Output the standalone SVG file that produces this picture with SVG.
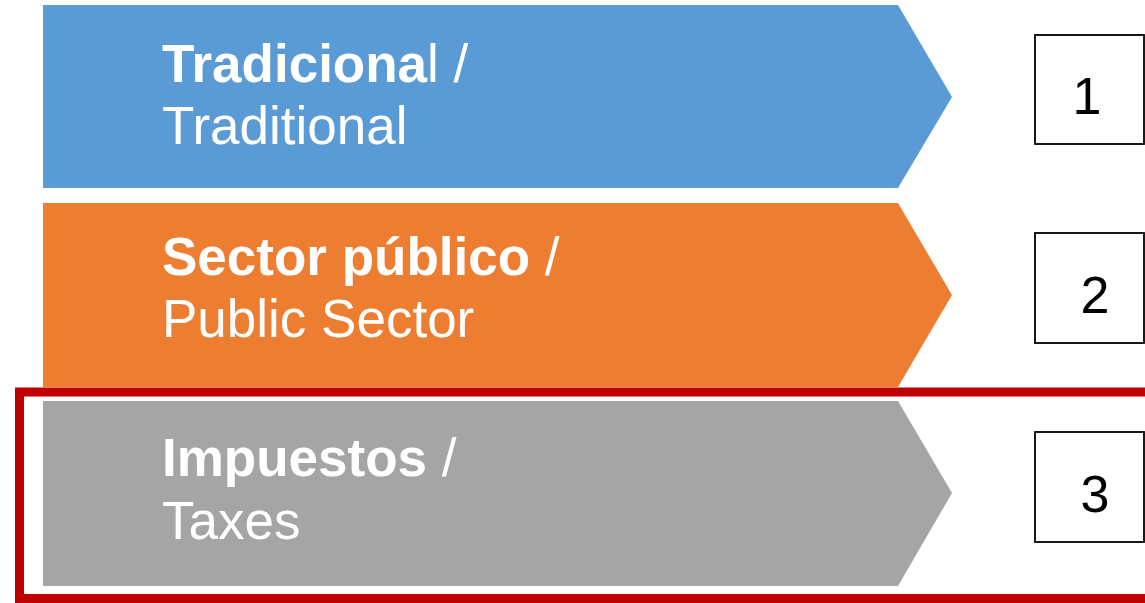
<svg xmlns="http://www.w3.org/2000/svg" width="1145" height="603" viewBox="0 0 1145 603">
<style>
.t{font-family:"Liberation Sans",Arial,sans-serif;font-size:53px;fill:#FFFFFF}
.b{font-weight:bold}
.num{font-family:"Liberation Sans",Arial,sans-serif;font-size:52px;fill:#000000}
.box{fill:#FFFFFF;stroke:#000000;stroke-width:1.8}
</style>
<rect width="1145" height="603" fill="#FFFFFF"/>
<g id="arrow1">
<polygon points="43,5 898,5 952,97 898,188 43,188" fill="#5B9BD5"/>
<text class="t" x="162" y="82"><tspan class="b">Tradiciona</tspan>l /</text>
<text class="t" x="162" y="144">Traditional</text>
</g>
<g id="arrow2">
<polygon points="43,203 898,203 952,295 898,387 43,387" fill="#ED7D31"/>
<text class="t" x="162" y="275"><tspan class="b">Sector público</tspan> /</text>
<text class="t" x="162" y="337">Public Sector</text>
</g>
<g id="arrow3">
<polygon points="43,401 898,401 952,493 898,586 43,586" fill="#A5A5A5"/>
<text class="t" x="162" y="476"><tspan class="b">Impuestos</tspan> /</text>
<text class="t" x="162" y="539">Taxes</text>
</g>
<g id="box1">
<rect class="box" x="1035" y="35" width="109" height="109"/>
<text class="num" x="1087" y="114" text-anchor="middle">1</text>
</g>
<g id="box2">
<rect class="box" x="1035" y="233" width="109" height="110"/>
<text class="num" x="1095" y="313" text-anchor="middle">2</text>
</g>
<g id="box3">
<rect class="box" x="1035" y="432" width="109" height="110"/>
<text class="num" x="1095" y="512" text-anchor="middle">3</text>
</g>
<g id="highlight">
<rect x="19.5" y="392" width="1140" height="206.5" fill="none" stroke="#C00000" stroke-width="9"/>
</g>
<g id="connectors"/>
</svg>
